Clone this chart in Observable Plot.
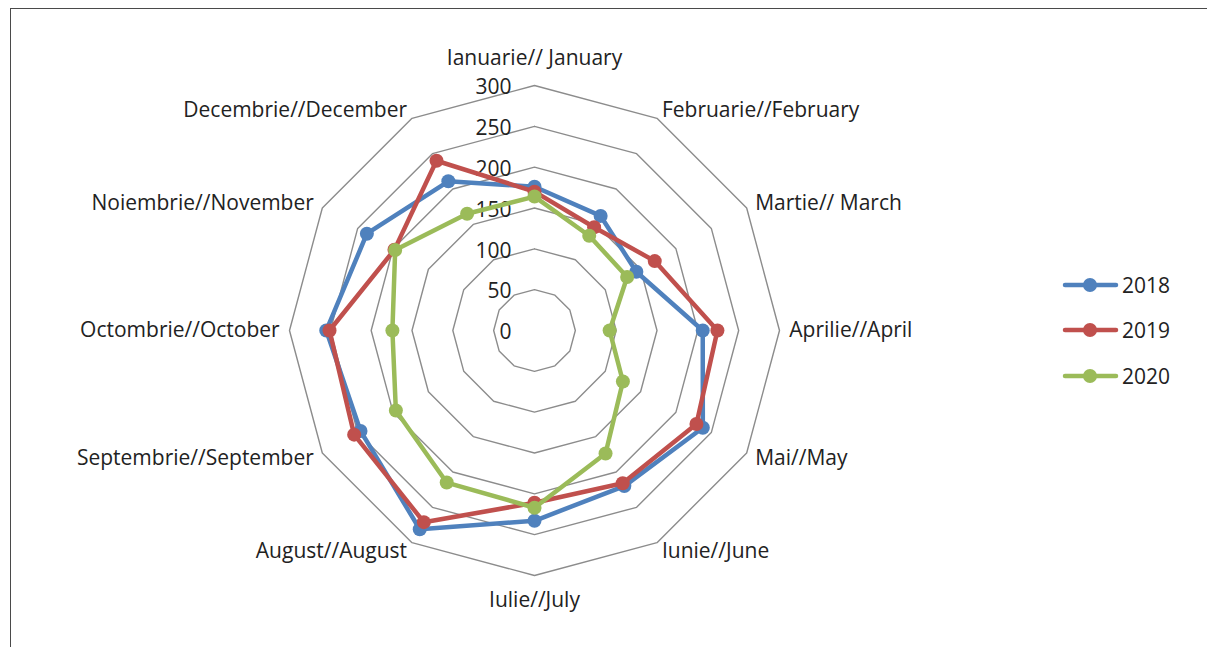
<!DOCTYPE html>
<html>
<head>
<meta charset="utf-8">
<script src="https://cdn.jsdelivr.net/npm/d3@7"></script>
<script src="https://cdn.jsdelivr.net/npm/@observablehq/plot@0.6"></script>
<style>
  body { margin: 0; background: #fff; }
  #wrap { position: relative; width: 1207px; height: 647px; overflow: hidden; font-family: "Open Sans", sans-serif; }
  #frame { position: absolute; left: 10px; top: 8px; width: 1210px; height: 650px; border-left: 1.5px solid #4a4a4a; border-top: 1.5px solid #4a4a4a; }
  #chart { position: absolute; left: 0; top: 0; }
  #legend { position: absolute; left: 1058px; top: 262px; font-size: 21px; color: #222; }
  #legend .item { height: 45.5px; display: flex; align-items: center; }
  #legend svg { margin-right: 2px; }
</style>
</head>
<body>
<div id="wrap">
  <div id="frame"></div>
  <div id="chart"></div>
  <div id="legend"></div>
</div>
<script>
// ---- data ----
const months = [
  "Ianuarie// January", "Februarie//February", "Martie// March", "Aprilie//April",
  "Mai//May", "Iunie//June", "Iulie//July", "August//August",
  "Septembrie//September", "Octombrie//October", "Noiembrie//November", "Decembrie//December"
];
const years = ["2018", "2019", "2020"];
const colors = ["#4F81BD", "#C0504D", "#9BBB59"];
const values2018 = [176, 162, 144, 206, 238, 220, 233, 281, 246, 255, 237, 211];
const values2019 = [170, 146, 170, 224, 229, 216, 211, 271, 255, 251, 198, 240];
const values2020 = [164, 134, 131, 92, 125, 174, 217, 215, 196, 174, 197, 165];
const ticks = [0, 50, 100, 150, 200, 250, 300];

// ---- layout ----
const W = 1207, H = 647;
const cx = 534, cy = 330;
const rMax = 300, rPx = 245;
const k = rPx / rMax;
const n = months.length;
const ang = i => i * 2 * Math.PI / n;
const polar = (v, i) => ({ x: v * Math.sin(ang(i)), y: v * Math.cos(ang(i)) });

const seriesValues = [values2018, values2019, values2020];

// grid rings
const rings = [];
ticks.filter(t => t > 0).forEach(t => {
  for (let i = 0; i <= n; i++) rings.push({ ring: t, ...polar(t, i % n) });
});

// tick labels
const tickLabels = ticks.map(t => ({ label: String(t), x: 0, y: t }));

// month labels
const labR = rMax + 12;
const monthLabels = months.map((m, i) => ({ label: m, i, ...polar(labR, i) }));

const fs = 21;
const marks = [
  Plot.line(rings, { x: "x", y: "y", z: "ring", stroke: "#8c8c8c", strokeWidth: 1.4 }),
  Plot.text(tickLabels, { x: "x", y: "y", text: "label", textAnchor: "end", dx: -23, dy: 2, fontSize: fs, fill: "#222" }),
  Plot.text(monthLabels.filter(d => d.i === 0), { x: "x", y: "y", text: "label", textAnchor: "middle", dy: -17, fontSize: fs, fill: "#222" }),
  Plot.text(monthLabels.filter(d => d.i === 6), { x: "x", y: "y", text: "label", textAnchor: "middle", dy: 15, fontSize: fs, fill: "#222" }),
  Plot.text(monthLabels.filter(d => d.i > 0 && d.i < 6), { x: "x", y: "y", text: "label", textAnchor: "start", fontSize: fs, fill: "#222" }),
  Plot.text(monthLabels.filter(d => d.i > 6), { x: "x", y: "y", text: "label", textAnchor: "end", fontSize: fs, fill: "#222" })
];

years.forEach((yr, s) => {
  const vals = seriesValues[s];
  const pts = vals.map((v, i) => ({ year: yr, v, ...polar(v, i) }));
  const closed = [...pts, pts[0]];
  marks.push(Plot.line(closed, { x: "x", y: "y", stroke: colors[s], strokeWidth: 4.5, strokeLinejoin: "round", strokeLinecap: "round" }));
  marks.push(Plot.dot(pts, { x: "x", y: "y", r: 7, fill: colors[s], stroke: "none" }));
});

const chart = Plot.plot({
  width: W,
  height: H,
  margin: 0,
  style: { background: "transparent", fontFamily: "'Open Sans', sans-serif" },
  x: { domain: [-cx / k, (W - cx) / k], axis: null },
  y: { domain: [-(H - cy) / k, cy / k], axis: null },
  marks
});
document.getElementById("chart").appendChild(chart);

// legend
const legend = document.getElementById("legend");
years.forEach((yr, s) => {
  const item = document.createElement("div");
  item.className = "item";
  item.innerHTML = `<svg width="62" height="16"><line x1="7" y1="8" x2="58" y2="8" stroke="${colors[s]}" stroke-width="4.5" stroke-linecap="round"/><circle cx="32" cy="8" r="7" fill="${colors[s]}"/></svg><span>${yr}</span>`;
  legend.appendChild(item);
});
</script>
</body>
</html>
